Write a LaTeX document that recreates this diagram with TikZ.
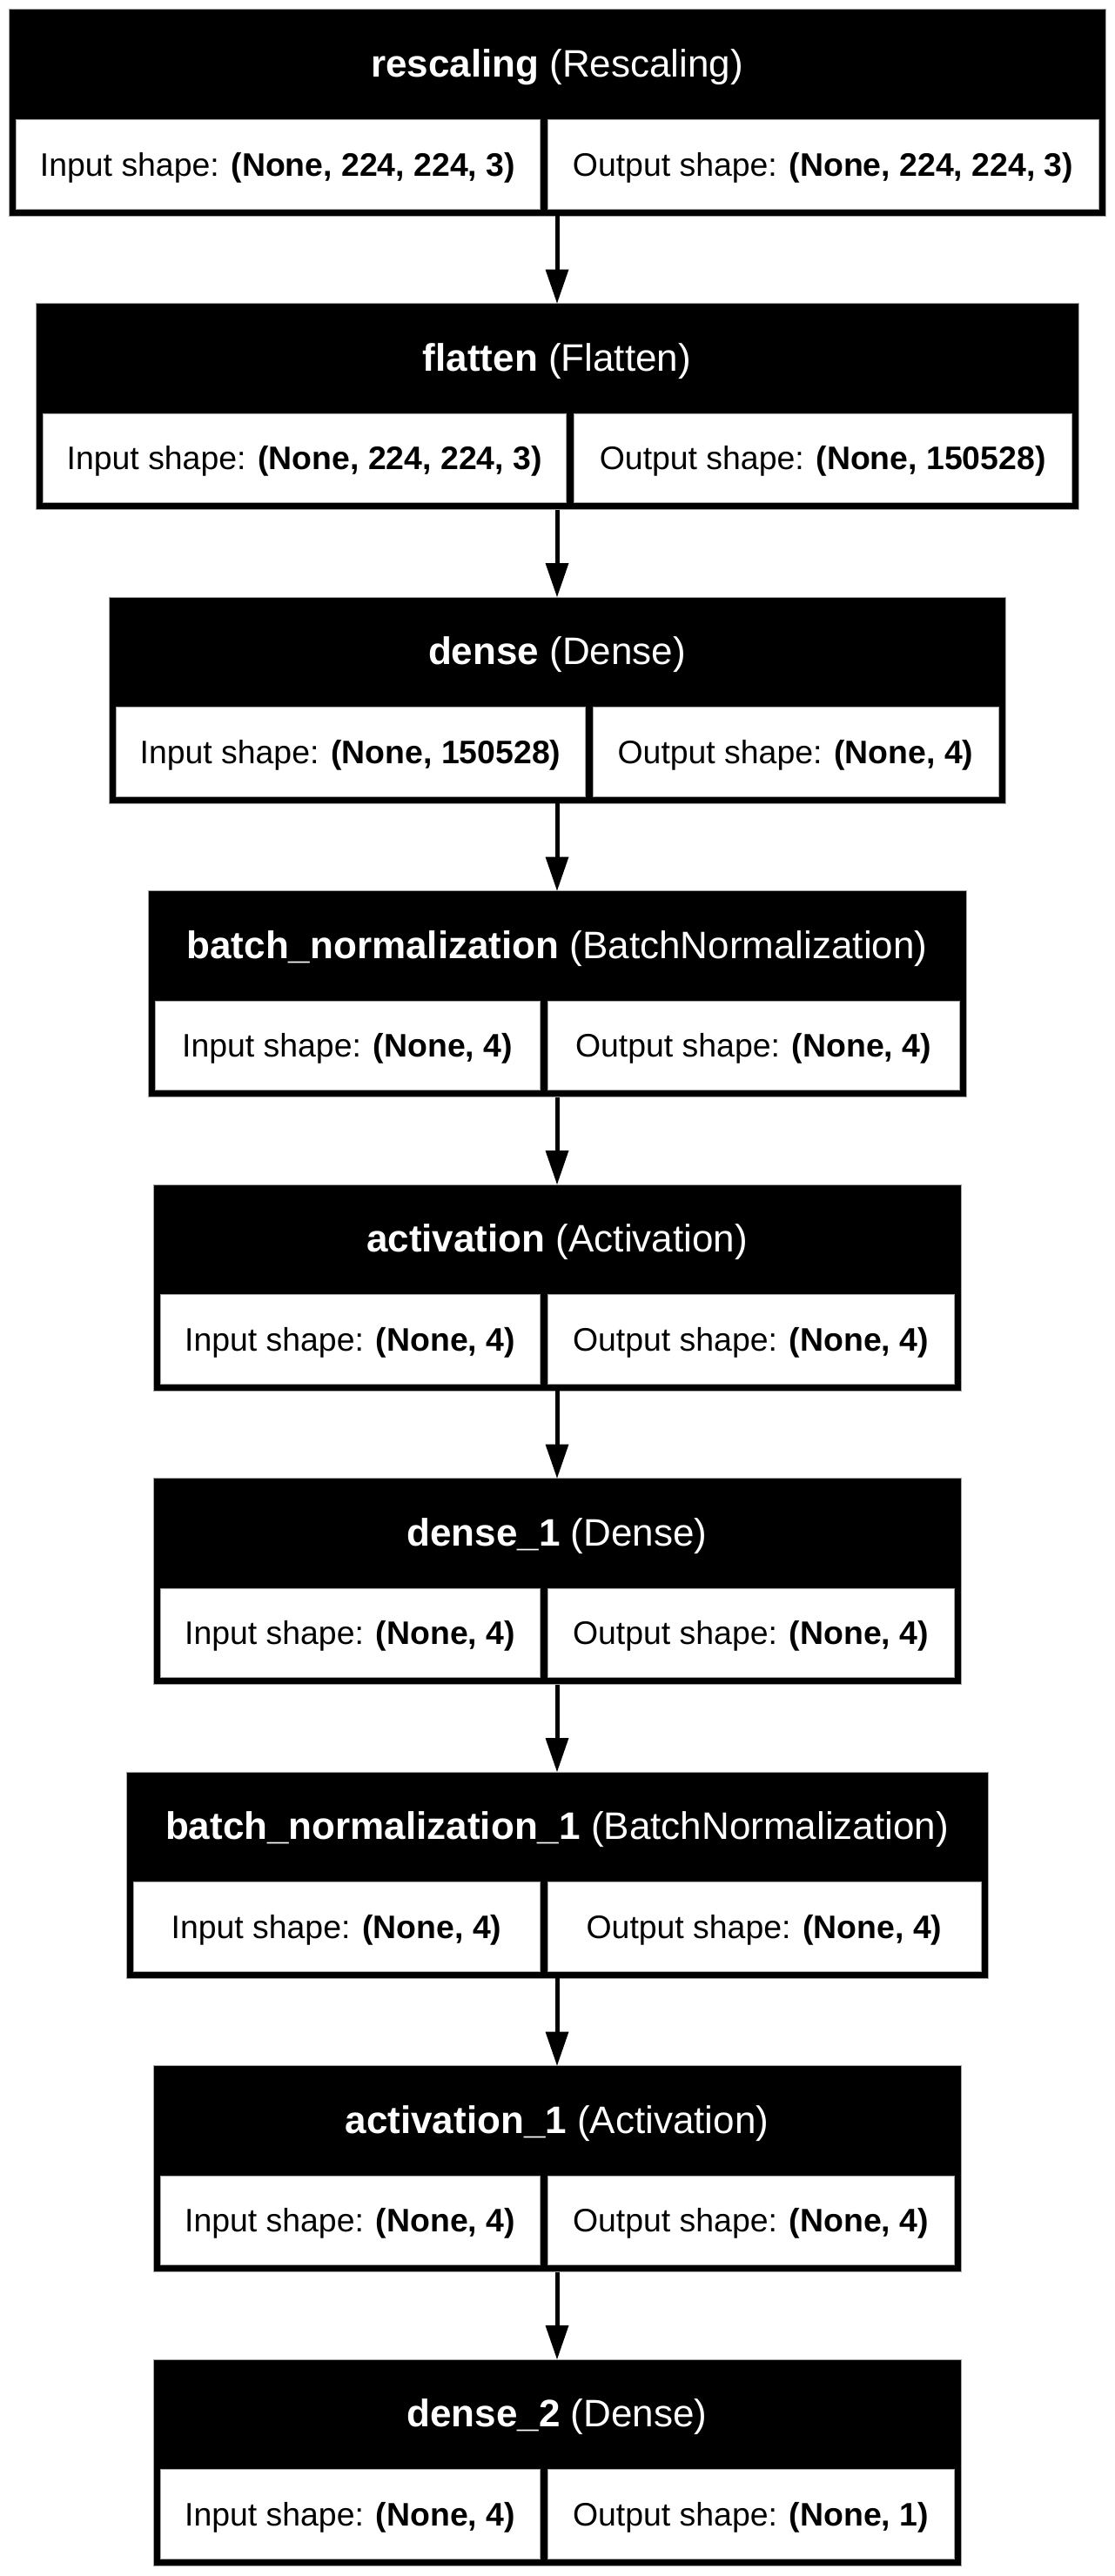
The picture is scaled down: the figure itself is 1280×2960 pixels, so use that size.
\documentclass[tikz,border=0pt]{standalone}
\usepackage{fontspec}
\setmainfont{Liberation Sans}
\usetikzlibrary{arrows.meta}
\newcommand\lfs{\fontsize{37.4}{44}\selectfont}
\newcommand\tfs{\fontsize{44}{52}\selectfont}
\tikzset{
 x=1pt, y=1pt,
 blockbox/.style={draw=gray!70, line width=1pt, fill=black, inner sep=0pt, outer sep=0pt, anchor=north west},
 cellbox/.style={draw=gray!70, line width=1pt, fill=white, inner sep=0pt, outer sep=0pt, anchor=north west},
 titletext/.style={text=white, anchor=base, inner sep=0pt, font=\tfs},
 celltext/.style={text=black, anchor=base, inner sep=0pt, font=\lfs},
 flow/.style={line width=5pt, -{Triangle[length=39pt 0 0, width=27pt 0 0, line width=0pt 0 0]}},
}
% name, x0, x1, split, top, bold name, type, input, output
\newcommand\blk[9]{%
 \pgfmathsetmacro\bw{#3-#2}%
 \pgfmathsetmacro\lw{#4-4.5-#2-8}%
 \pgfmathsetmacro\rw{#3-8-#4-4.5}%
 \node[blockbox, minimum width=\bw pt, minimum height=237pt] (#1) at (#2,-#5) {};
 \node[cellbox, minimum width=\lw pt, minimum height=102.5pt] (#1-inbox) at (#2+8,-#5-126.5) {};
 \node[cellbox, minimum width=\rw pt, minimum height=102.5pt] (#1-outbox) at (#4+4.5,-#5-126.5) {};
 \node[titletext] (#1-title) at (640,-#5-77.5) {\textbf{#6} (#7)};
 \node[celltext] (#1-in) at ({(#2+8+#4-4.5)/2},-#5-191) {Input shape: \textbf{#8}};
 \node[celltext] (#1-out) at ({(#4+4.5+#3-8)/2},-#5-191) {Output shape: \textbf{#9}};
}
\begin{document}
\begin{tikzpicture}
\useasboundingbox[fill=white] (0,0) rectangle (1280,-2960);
\blk{b1}{10}{1270}{624.5}{11}{rescaling}{Rescaling}{(None, 224, 224, 3)}{(None, 224, 224, 3)}
\blk{b2}{41}{1239}{655}{348.5}{flatten}{Flatten}{(None, 224, 224, 3)}{(None, 150528)}
\blk{b3}{125}{1155}{676.5}{686}{dense}{Dense}{(None, 150528)}{(None, 4)}
\blk{b4}{170}{1110}{624.5}{1023.5}{batch\_normalization}{BatchNormalization}{(None, 4)}{(None, 4)}
\blk{b5}{176}{1104}{624.5}{1361}{activation}{Activation}{(None, 4)}{(None, 4)}
\blk{b6}{176}{1104}{624.5}{1698.5}{dense\_1}{Dense}{(None, 4)}{(None, 4)}
\blk{b7}{145}{1135}{624.5}{2036}{batch\_normalization\_1}{BatchNormalization}{(None, 4)}{(None, 4)}
\blk{b8}{176}{1104}{624.5}{2373.5}{activation\_1}{Activation}{(None, 4)}{(None, 4)}
\blk{b9}{176}{1104}{624.5}{2711}{dense\_2}{Dense}{(None, 4)}{(None, 1)}
\draw[flow] (b1.south) -- (b2.north);
\draw[flow] (b2.south) -- (b3.north);
\draw[flow] (b3.south) -- (b4.north);
\draw[flow] (b4.south) -- (b5.north);
\draw[flow] (b5.south) -- (b6.north);
\draw[flow] (b6.south) -- (b7.north);
\draw[flow] (b7.south) -- (b8.north);
\draw[flow] (b8.south) -- (b9.north);
\end{tikzpicture}
\end{document}
